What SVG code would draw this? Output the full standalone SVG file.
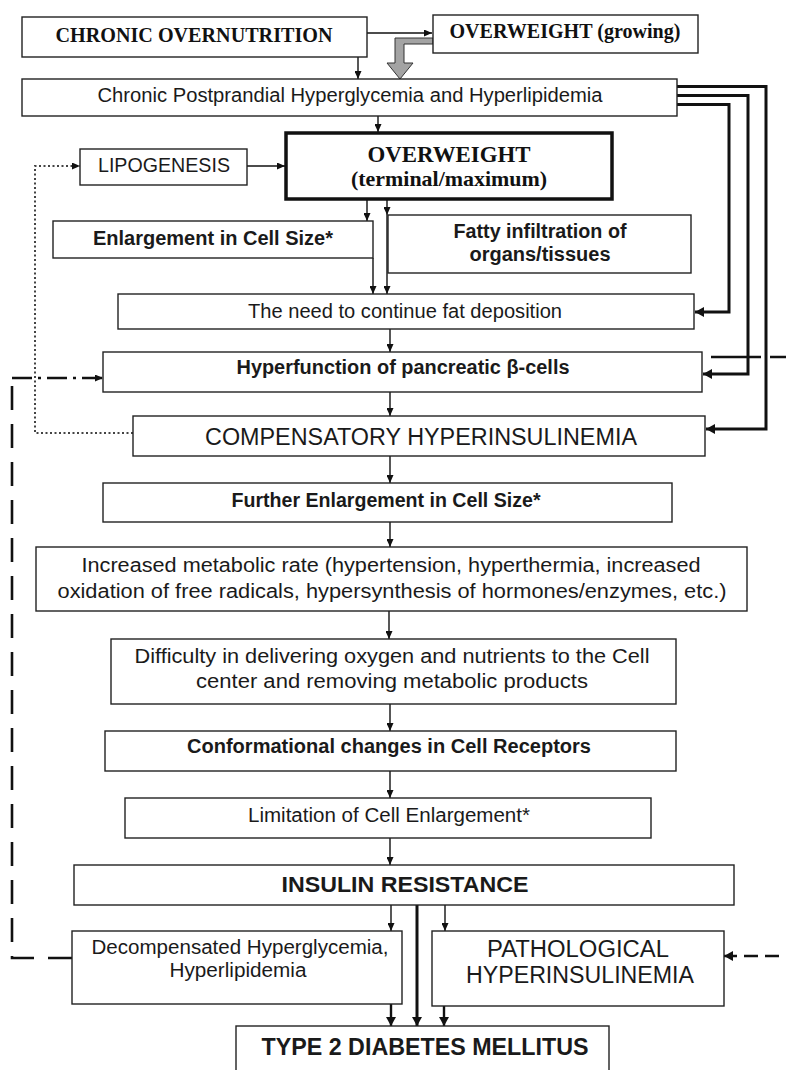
<svg xmlns="http://www.w3.org/2000/svg" width="786" height="1070" viewBox="0 0 786 1070">
<style>
.box{fill:#fff;stroke:#222;stroke-width:1.4}
.thick{fill:#fff;stroke:#111;stroke-width:3.5}
.s{font-family:"Liberation Sans",Arial,sans-serif;font-size:20px;fill:#1a1a1a;text-anchor:middle}
.b{font-weight:bold}
.t{font-family:"Liberation Serif","Times New Roman",serif;font-weight:bold;font-size:20px;fill:#111;text-anchor:middle}
.ln{fill:none;stroke:#111;stroke-width:1.4}
.bold{fill:none;stroke:#111;stroke-width:3}
.dot{fill:none;stroke:#444;stroke-width:2;stroke-dasharray:2 2.5}
.dsh{fill:none;stroke:#111;stroke-width:2.6}
</style>
<defs>
<marker id="a" viewBox="0 0 8 7" refX="8" refY="3.5" markerWidth="8" markerHeight="7" orient="auto" markerUnits="userSpaceOnUse"><path d="M0,0 L8,3.5 L0,7 z" fill="#111"/></marker>
<marker id="ab" viewBox="0 0 9 10" refX="9" refY="5" markerWidth="9" markerHeight="10" orient="auto" markerUnits="userSpaceOnUse"><path d="M0,0 L9,5 L0,10 z" fill="#111"/></marker>
</defs>

<g id="connectors">
<path class="ln" d="M367,33 H432" marker-end="url(#a)"/>
<path class="ln" d="M358,57 V79" marker-end="url(#a)"/>
<path d="M433,38 H395 V63 H387 L400,79 L413,63 H404 V44 H433 Z" fill="#a3a3a3" stroke="#333" stroke-width="1"/>
<path class="ln" d="M378,116 V132" marker-end="url(#a)"/>
<path class="ln" d="M247,166 H285" marker-end="url(#a)"/>
<path class="ln" d="M367,200 V221" marker-end="url(#a)"/>
<path class="ln" d="M387,200 V215" marker-end="url(#a)"/>
<path class="ln" d="M373,258 V294" marker-end="url(#a)"/>
<path class="ln" d="M387,215 V294" marker-end="url(#a)"/>
<path class="ln" d="M390,329 V352" marker-end="url(#a)"/>
<path class="ln" d="M390,392 V416" marker-end="url(#a)"/>
<path class="ln" d="M390,456 V483" marker-end="url(#a)"/>
<path class="ln" d="M390,522 V547" marker-end="url(#a)"/>
<path class="ln" d="M389,611 V639" marker-end="url(#a)"/>
<path class="ln" d="M390,704 V731" marker-end="url(#a)"/>
<path class="ln" d="M390,771 V798" marker-end="url(#a)"/>
<path class="ln" d="M390,838 V865" marker-end="url(#a)"/>
<path class="ln" d="M391,905 V931" marker-end="url(#a)"/>
<path class="ln" d="M445,905 V931" marker-end="url(#a)"/>
<path class="bold" d="M417,905 V1026" marker-end="url(#ab)"/>
<path class="ln" style="stroke-width:2.4" d="M391,1004 V1026" marker-end="url(#ab)"/>
<path class="ln" style="stroke-width:2.4" d="M444,1006 V1026" marker-end="url(#ab)"/>
<path class="bold" d="M676,86.5 H766 V429 H706" marker-end="url(#ab)"/>
<path class="bold" d="M676,95.5 H748 V374 H703" marker-end="url(#ab)"/>
<path class="bold" d="M676,104.5 H729 V312 H695" marker-end="url(#ab)"/>
<path class="dot" d="M133,433 H35 V166 H80" marker-end="url(#a)"/>
<path class="dsh" style="stroke-dasharray:20 6 3 6" d="M12,378 H103" marker-end="url(#a)"/>
<path class="dsh" style="stroke-dasharray:24 14" d="M72,958 H12 V380"/>
<path class="dsh" style="stroke-dasharray:50 9" d="M711,357 H800"/>
<path class="dsh" style="stroke-dasharray:14 7" d="M800,956 H724" marker-end="url(#ab)"/>
</g>

<g id="chronic-overnutrition"><rect class="box" x="22" y="17" width="345" height="40"/><text class="t" x="194" y="42" textLength="277" lengthAdjust="spacingAndGlyphs">CHRONIC OVERNUTRITION</text></g>
<g id="overweight-growing"><rect class="box" x="433" y="15" width="265" height="38"/><text class="t" x="565" y="38" textLength="231" lengthAdjust="spacingAndGlyphs">OVERWEIGHT (growing)</text></g>
<g id="postprandial"><rect class="box" x="22" y="79" width="655" height="37"/><text class="s" x="350" y="102" textLength="505" lengthAdjust="spacingAndGlyphs">Chronic Postprandial Hyperglycemia and Hyperlipidemia</text></g>
<g id="lipogenesis"><rect class="box" x="80" y="149" width="167" height="36"/><text class="s" x="164" y="172" textLength="132" lengthAdjust="spacingAndGlyphs">LIPOGENESIS</text></g>
<g id="overweight-terminal"><rect class="thick" x="286" y="133" width="326" height="66"/><text class="t" x="449" y="162" style="font-size:22.5px" textLength="163" lengthAdjust="spacingAndGlyphs">OVERWEIGHT</text><text class="t" x="449" y="186" style="font-size:21px" textLength="196" lengthAdjust="spacingAndGlyphs">(terminal/maximum)</text></g>
<g id="enlargement"><rect class="box" x="53" y="221" width="320" height="37"/><text class="s b" x="213" y="245" textLength="240" lengthAdjust="spacingAndGlyphs">Enlargement in Cell Size*</text></g>
<g id="fatty"><rect class="box" x="388" y="215" width="303" height="58"/><text class="s b" x="540" y="238" textLength="173" lengthAdjust="spacingAndGlyphs">Fatty infiltration  of</text><text class="s b" x="540" y="261" textLength="141" lengthAdjust="spacingAndGlyphs">organs/tissues</text></g>
<g id="fat-deposition"><rect class="box" x="118" y="294" width="576" height="35"/><text class="s" x="405" y="318" textLength="314" lengthAdjust="spacingAndGlyphs">The need to continue fat deposition</text></g>
<g id="hyperfunction"><rect class="box" x="103" y="352" width="599" height="40"/><text class="s b" x="403" y="374" textLength="333" lengthAdjust="spacingAndGlyphs">Hyperfunction  of pancreatic β-cells</text></g>
<g id="compensatory"><rect class="box" x="133" y="416" width="572" height="40"/><text class="s" x="421" y="445" style="font-size:23px" textLength="432" lengthAdjust="spacingAndGlyphs">COMPENSATORY HYPERINSULINEMIA</text></g>
<g id="further-enlargement"><rect class="box" x="103" y="483" width="569" height="39"/><text class="s b" x="386" y="507" textLength="309" lengthAdjust="spacingAndGlyphs">Further Enlargement in Cell Size*</text></g>
<g id="metabolic-rate"><rect class="box" x="36" y="547" width="711" height="64"/><text class="s" x="391" y="572" textLength="619" lengthAdjust="spacingAndGlyphs">Increased metabolic rate (hypertension, hyperthermia, increased</text><text class="s" x="392" y="598" textLength="669" lengthAdjust="spacingAndGlyphs">oxidation of free radicals, hypersynthesis of hormones/enzymes, etc.)</text></g>
<g id="difficulty"><rect class="box" x="111" y="639" width="565" height="65"/><text class="s" x="392" y="663" textLength="515" lengthAdjust="spacingAndGlyphs">Difficulty in delivering oxygen and nutrients to the Cell</text><text class="s" x="392" y="688" textLength="392" lengthAdjust="spacingAndGlyphs">center and removing metabolic products</text></g>
<g id="conformational"><rect class="box" x="105" y="731" width="571" height="40"/><text class="s b" x="389" y="753" textLength="404" lengthAdjust="spacingAndGlyphs">Conformational changes in Cell Receptors</text></g>
<g id="limitation"><rect class="box" x="125" y="798" width="526" height="40"/><text class="s" x="389" y="822" textLength="282" lengthAdjust="spacingAndGlyphs">Limitation of Cell Enlargement*</text></g>
<g id="insulin-resistance"><rect class="box" x="74" y="865" width="660" height="40"/><text class="s b" x="405" y="892" style="font-size:22px" textLength="247" lengthAdjust="spacingAndGlyphs">INSULIN RESISTANCE</text></g>
<g id="decompensated"><rect class="box" x="72" y="931" width="330" height="73"/><text class="s" x="240" y="954" textLength="297" lengthAdjust="spacingAndGlyphs">Decompensated Hyperglycemia,</text><text class="s" x="238" y="977" textLength="137" lengthAdjust="spacingAndGlyphs">Hyperlipidemia</text></g>
<g id="pathological"><rect class="box" x="432" y="931" width="292" height="75"/><text class="s" x="578" y="957" style="font-size:23px" textLength="182" lengthAdjust="spacingAndGlyphs">PATHOLOGICAL</text><text class="s" x="580" y="983" style="font-size:23px" textLength="228" lengthAdjust="spacingAndGlyphs">HYPERINSULINEMIA</text></g>
<g id="type2-diabetes"><rect class="box" x="236" y="1026" width="373" height="60"/><text class="s b" x="425" y="1055" style="font-size:23px" textLength="327" lengthAdjust="spacingAndGlyphs">TYPE 2 DIABETES MELLITUS</text></g>
</svg>
